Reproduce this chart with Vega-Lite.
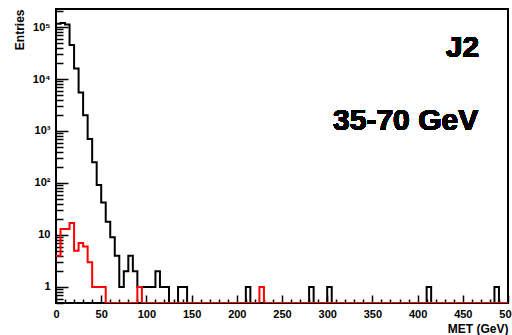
{
  "$schema": "https://vega.github.io/schema/vega-lite/v6.json",
  "width": 452,
  "height": 294,
  "autosize": "none",
  "padding": {"left": 56, "top": 9, "right": 4, "bottom": 32},
  "background": "white",
  "config": {
    "view": {"stroke": "black", "strokeWidth": 2},
    "axis": {
      "domain": false,
      "grid": false,
      "labelFont": "Liberation Sans",
      "labelFontWeight": "bold",
      "labelColor": "black",
      "titleFont": "Liberation Sans",
      "titleFontWeight": "bold",
      "titleColor": "black",
      "tickColor": "black",
      "tickWidth": 1.5
    }
  },
  "data": {
    "values": [
      {"met": 0, "all": 115000, "sel": 4},
      {"met": 5, "all": 120000, "sel": 13},
      {"met": 10, "all": 112000, "sel": 13},
      {"met": 15, "all": 45000, "sel": 17},
      {"met": 20, "all": 16000, "sel": 5},
      {"met": 25, "all": 5500, "sel": 7},
      {"met": 30, "all": 2000, "sel": 6},
      {"met": 35, "all": 700, "sel": 3},
      {"met": 40, "all": 250, "sel": 1},
      {"met": 45, "all": 92, "sel": 1},
      {"met": 50, "all": 42, "sel": 1},
      {"met": 55, "all": 18, "sel": 0},
      {"met": 60, "all": 9, "sel": 0},
      {"met": 65, "all": 4, "sel": 0},
      {"met": 70, "all": 1, "sel": 0},
      {"met": 75, "all": 2, "sel": 0},
      {"met": 80, "all": 4, "sel": 0},
      {"met": 85, "all": 2, "sel": 0},
      {"met": 90, "all": 1, "sel": 1},
      {"met": 95, "all": 1, "sel": 0},
      {"met": 100, "all": 1, "sel": 0},
      {"met": 105, "all": 1, "sel": 0},
      {"met": 110, "all": 2, "sel": 0},
      {"met": 115, "all": 1, "sel": 0},
      {"met": 120, "all": 1, "sel": 0},
      {"met": 125, "all": 0, "sel": 0},
      {"met": 130, "all": 0, "sel": 0},
      {"met": 135, "all": 1, "sel": 0},
      {"met": 140, "all": 1, "sel": 0},
      {"met": 145, "all": 0, "sel": 0},
      {"met": 150, "all": 0, "sel": 0},
      {"met": 155, "all": 0, "sel": 0},
      {"met": 160, "all": 0, "sel": 0},
      {"met": 165, "all": 0, "sel": 0},
      {"met": 170, "all": 0, "sel": 0},
      {"met": 175, "all": 0, "sel": 0},
      {"met": 180, "all": 0, "sel": 0},
      {"met": 185, "all": 0, "sel": 0},
      {"met": 190, "all": 0, "sel": 0},
      {"met": 195, "all": 0, "sel": 0},
      {"met": 200, "all": 0, "sel": 0},
      {"met": 205, "all": 0, "sel": 0},
      {"met": 210, "all": 1, "sel": 0},
      {"met": 215, "all": 0, "sel": 0},
      {"met": 220, "all": 0, "sel": 0},
      {"met": 225, "all": 0, "sel": 1},
      {"met": 230, "all": 0, "sel": 0},
      {"met": 235, "all": 0, "sel": 0},
      {"met": 240, "all": 0, "sel": 0},
      {"met": 245, "all": 0, "sel": 0},
      {"met": 250, "all": 0, "sel": 0},
      {"met": 255, "all": 0, "sel": 0},
      {"met": 260, "all": 0, "sel": 0},
      {"met": 265, "all": 0, "sel": 0},
      {"met": 270, "all": 0, "sel": 0},
      {"met": 275, "all": 0, "sel": 0},
      {"met": 280, "all": 1, "sel": 0},
      {"met": 285, "all": 0, "sel": 0},
      {"met": 290, "all": 0, "sel": 0},
      {"met": 295, "all": 0, "sel": 0},
      {"met": 300, "all": 1, "sel": 0},
      {"met": 305, "all": 0, "sel": 0},
      {"met": 310, "all": 0, "sel": 0},
      {"met": 315, "all": 0, "sel": 0},
      {"met": 320, "all": 0, "sel": 0},
      {"met": 325, "all": 0, "sel": 0},
      {"met": 330, "all": 0, "sel": 0},
      {"met": 335, "all": 0, "sel": 0},
      {"met": 340, "all": 0, "sel": 0},
      {"met": 345, "all": 0, "sel": 0},
      {"met": 350, "all": 0, "sel": 0},
      {"met": 355, "all": 0, "sel": 0},
      {"met": 360, "all": 0, "sel": 0},
      {"met": 365, "all": 0, "sel": 0},
      {"met": 370, "all": 0, "sel": 0},
      {"met": 375, "all": 0, "sel": 0},
      {"met": 380, "all": 0, "sel": 0},
      {"met": 385, "all": 0, "sel": 0},
      {"met": 390, "all": 0, "sel": 0},
      {"met": 395, "all": 0, "sel": 0},
      {"met": 400, "all": 0, "sel": 0},
      {"met": 405, "all": 0, "sel": 0},
      {"met": 410, "all": 1, "sel": 0},
      {"met": 415, "all": 0, "sel": 0},
      {"met": 420, "all": 0, "sel": 0},
      {"met": 425, "all": 0, "sel": 0},
      {"met": 430, "all": 0, "sel": 0},
      {"met": 435, "all": 0, "sel": 0},
      {"met": 440, "all": 0, "sel": 0},
      {"met": 445, "all": 0, "sel": 0},
      {"met": 450, "all": 0, "sel": 0},
      {"met": 455, "all": 0, "sel": 0},
      {"met": 460, "all": 0, "sel": 0},
      {"met": 465, "all": 0, "sel": 0},
      {"met": 470, "all": 0, "sel": 0},
      {"met": 475, "all": 0, "sel": 0},
      {"met": 480, "all": 0, "sel": 0},
      {"met": 485, "all": 1, "sel": 0},
      {"met": 490, "all": 0, "sel": 0},
      {"met": 495, "all": 0, "sel": 0},
      {"met": 500, "all": 0, "sel": 0}
    ]
  },
  "layer": [
    {
      "mark": {"type": "line", "interpolate": "step-after", "color": "black", "strokeWidth": 2, "invalid": "show", "clip": true},
      "encoding": {
        "x": {
          "field": "met", "type": "quantitative",
          "scale": {"domain": [0, 500], "nice": false, "zero": false},
          "axis": {
            "orient": "bottom",
            "values": [0, 50, 100, 150, 200, 250, 300, 350, 400, 450, 500],
            "tickSize": -8,
            "labelPadding": 13,
            "labelFontSize": 11,
            "labelFlush": false,
            "title": "MET (GeV)",
            "titleFontSize": 12,
            "titleAnchor": "end",
            "titleAlign": "right",
            "titleBaseline": "top",
            "titleX": 452,
            "titleY": 20
          }
        },
        "y": {
          "field": "all", "type": "quantitative",
          "scale": {"type": "log", "domain": [0.492, 222000], "nice": false, "clamp": true},
          "axis": {
            "orient": "left",
            "values": [1, 10, 100, 1000, 10000, 100000],
            "labelExpr": "datum.value == 1 ? '1' : datum.value == 10 ? '10' : datum.value == 100 ? '10²' : datum.value == 1000 ? '10³' : datum.value == 10000 ? '10⁴' : '10⁵'",
            "tickSize": -12,
            "labelPadding": 18,
            "labelFontSize": 11,
            "labelFlush": false,
            "title": "Entries",
            "titleFontSize": 12,
            "titleAngle": -90,
            "titleAlign": "right",
            "titleBaseline": "middle",
            "titleX": -37,
            "titleY": 0
          }
        }
      }
    },
    {
      "mark": {"type": "line", "interpolate": "step-after", "color": "#ff0000", "strokeWidth": 2, "invalid": "show", "clip": true},
      "encoding": {
        "x": {
          "field": "met", "type": "quantitative",
          "axis": {
            "orient": "bottom",
            "values": [10, 20, 30, 40, 60, 70, 80, 90, 110, 120, 130, 140, 160, 170, 180, 190, 210, 220, 230, 240, 260, 270, 280, 290, 310, 320, 330, 340, 360, 370, 380, 390, 410, 420, 430, 440, 460, 470, 480, 490],
            "tickSize": -4,
            "labels": false,
            "title": null
          }
        },
        "y": {
          "field": "sel", "type": "quantitative",
          "axis": {
            "orient": "left",
            "values": [0.5, 0.6, 0.7, 0.8, 0.9, 2, 3, 4, 5, 6, 7, 8, 9, 20, 30, 40, 50, 60, 70, 80, 90, 200, 300, 400, 500, 600, 700, 800, 900, 2000, 3000, 4000, 5000, 6000, 7000, 8000, 9000, 20000, 30000, 40000, 50000, 60000, 70000, 80000, 90000, 200000],
            "tickSize": -7,
            "labels": false,
            "title": null
          }
        }
      }
    },
    {
      "mark": {"type": "text", "text": "J2", "font": "Liberation Sans", "fontWeight": "bold", "fontSize": 30, "align": "right", "baseline": "alphabetic", "color": "black"},
      "encoding": {
        "x": {"datum": 468, "type": "quantitative", "axis": null},
        "y": {"datum": 26500, "type": "quantitative", "axis": null}
      }
    },
    {
      "mark": {"type": "text", "text": "35-70 GeV", "font": "Liberation Sans", "fontWeight": "bold", "fontSize": 30, "align": "right", "baseline": "alphabetic", "color": "black"},
      "encoding": {
        "x": {"datum": 467, "type": "quantitative", "axis": null},
        "y": {"datum": 1050, "type": "quantitative", "axis": null}
      }
    }
  ],
  "resolve": {"axis": {"x": "independent", "y": "independent"}}
}
